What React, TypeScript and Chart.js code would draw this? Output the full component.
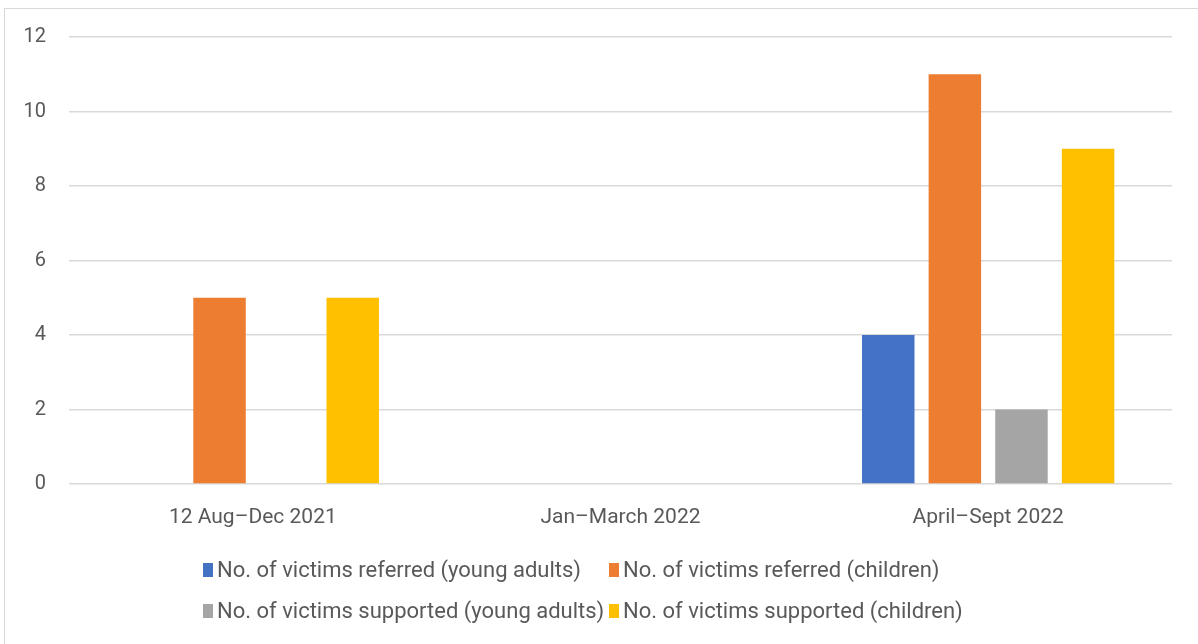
import React, { useEffect, useRef } from "react";
import { Chart, registerables } from "chart.js";

Chart.register(...registerables);

const categories = ["12 Aug–Dec 2021", "Jan–March 2022", "April–Sept 2022"];
const referredYoungAdults = [0, 0, 4];
const referredChildren = [5, 0, 11];
const supportedYoungAdults = [0, 0, 2];
const supportedChildren = [5, 0, 9];
const seriesNames = [
  "No. of victims referred (young adults)",
  "No. of victims referred (children)",
  "No. of victims supported (young adults)",
  "No. of victims supported (children)",
];
const seriesColors = ["#4472C4", "#ED7D31", "#A5A5A5", "#FFC000"];

const FONT = "Roboto, 'Noto Sans', sans-serif";
const TEXT = "#595959";

const legendPlugin = {
  id: "excelLegend",
  afterDraw(chart: any) {
    const ctx = chart.ctx;
    const ds = chart.data.datasets;
    const rows = [
      [0, 1],
      [2, 3],
    ];
    const rowY = [570, 611];
    const colX = [203, 609];
    ctx.save();
    ctx.font = `22px ${FONT}`;
    ctx.textBaseline = "middle";
    rows.forEach((row, r) => {
      row.forEach((idx, c) => {
        const x = colX[c];
        const y = rowY[r];
        ctx.fillStyle = ds[idx].backgroundColor;
        ctx.fillRect(x, y - 7, 10, 14);
        ctx.fillStyle = TEXT;
        ctx.fillText(ds[idx].label, x + 14, y + 1);
      });
    });
    ctx.restore();
  },
};

export default function App() {
  const ref = useRef<HTMLCanvasElement | null>(null);
  useEffect(() => {
    document.body.style.margin = "0";
    const values = [referredYoungAdults, referredChildren, supportedYoungAdults, supportedChildren];
    const chart = new Chart(ref.current!, {
      type: "bar",
      data: {
        labels: categories,
        datasets: values.map((v, i) => ({
          label: seriesNames[i],
          data: v,
          backgroundColor: seriesColors[i],
          borderWidth: 0,
          categoryPercentage: 0.7246,
          barPercentage: 0.788,
        })),
      },
      options: {
        animation: false,
        responsive: false,
        maintainAspectRatio: false,
        layout: { padding: { left: 0, top: 37, right: 26, bottom: 0 } },
        plugins: {
          legend: { display: false },
          tooltip: { enabled: false },
        },
        scales: {
          x: {
            grid: { display: false, drawTicks: false },
            border: { display: false },
            ticks: {
              color: TEXT,
              font: { family: FONT, size: 21 },
              padding: 21,
            },
            afterFit(scale: any) {
              scale.height = 160;
            },
          },
          y: {
            min: 0,
            max: 12,
            ticks: {
              stepSize: 2,
              color: TEXT,
              font: { family: FONT, size: 20 },
              padding: 23,
            },
            grid: { color: "#D9D9D9", lineWidth: 1.5, drawTicks: false },
            border: { display: false },
            afterFit(scale: any) {
              scale.width = 69;
            },
          },
        },
      },
      plugins: [legendPlugin],
    });
    return () => chart.destroy();
  }, []);
  return (
    <div style={{ position: "fixed", left: 0, top: 0, width: 1198, height: 644, overflow: "hidden", background: "#fff" }}>
      <div
        style={{
          position: "absolute",
          left: 4,
          top: 8,
          width: 1210,
          height: 650,
          border: "1.5px solid #D9D9D9",
          boxSizing: "border-box",
        }}
      />
      <canvas ref={ref} width={1198} height={644} style={{ position: "absolute", left: 0, top: 0 }} />
    </div>
  );
}
